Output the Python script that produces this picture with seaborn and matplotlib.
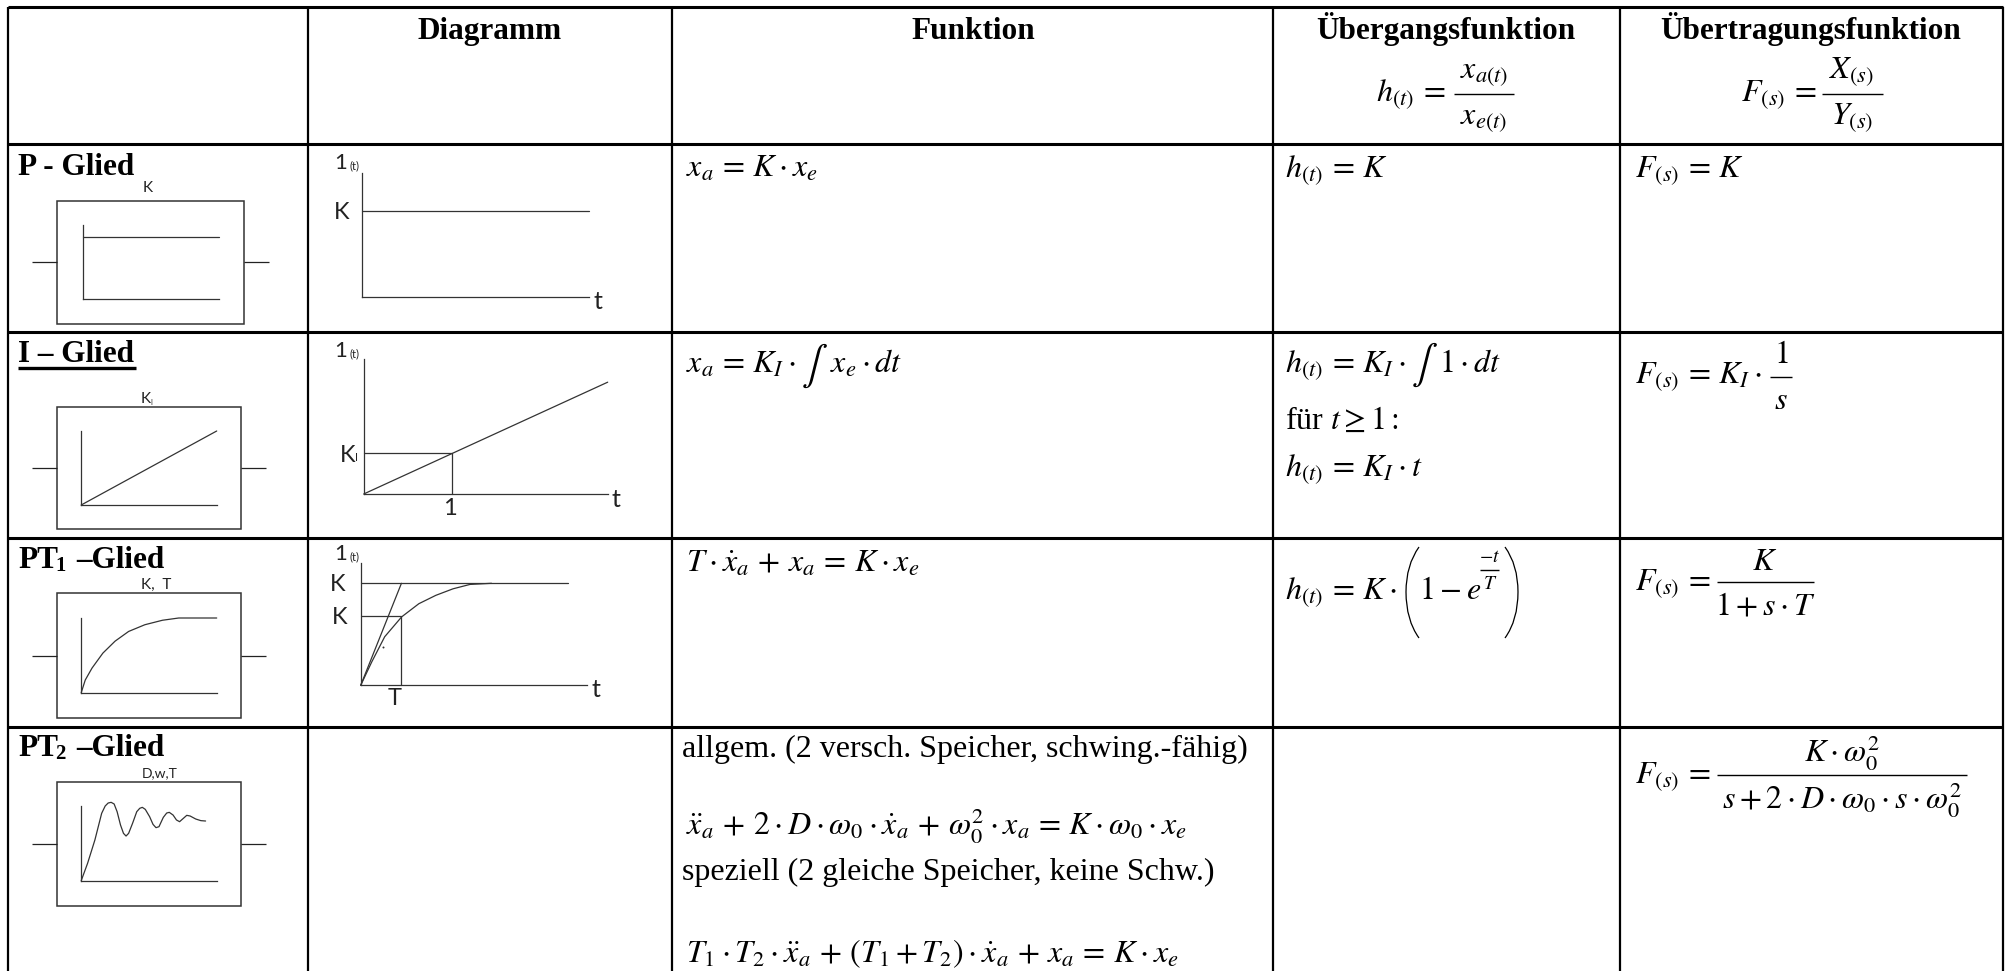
import matplotlib
matplotlib.use("Agg")
import matplotlib.pyplot as plt
from matplotlib.patches import PathPatch, Rectangle
from matplotlib.path import Path
import seaborn as sns

W, H = 2013, 971

# table grid
grid_x = [8, 307.5, 672, 1273, 1620, 2003]
grid_y = [7.5, 144.5, 332, 538.5, 727]

headers = ["Diagramm", "Funktion", "Übergangsfunktion", "Übertragungsfunktion"]

# curves (t, h in units of each sketch)
p_t = [0, 1]
p_h = [0.84, 0.84]
i_t = [0, 1]
i_h = [0, 1]
pt1_t = [0.0, 0.03, 0.08, 0.16, 0.25, 0.35, 0.47, 0.6, 0.72, 1.0]
pt1_h = [0.0, 0.17, 0.33, 0.53, 0.69, 0.82, 0.91, 0.97, 1.0, 1.0]
pt2_t = [0.0, 0.047, 0.101, 0.151, 0.177, 0.199, 0.221, 0.243, 0.265, 0.29, 0.312, 0.331,
         0.35, 0.379, 0.41, 0.432, 0.451, 0.473, 0.505, 0.53, 0.552, 0.574, 0.606, 0.631,
         0.65, 0.678, 0.703, 0.726, 0.751, 0.779, 0.804, 0.845, 0.883, 0.918]
pt2_h = [0.0, 0.232, 0.545, 0.902, 1.0, 1.04, 1.049, 1.027, 0.924, 0.746, 0.634, 0.598,
         0.634, 0.768, 0.924, 0.969, 0.982, 0.955, 0.857, 0.754, 0.71, 0.723, 0.848, 0.906,
         0.915, 0.879, 0.813, 0.79, 0.83, 0.875, 0.866, 0.826, 0.804, 0.799]

# step responses in the Diagramm column
dp_t = [0, 1]
dp_h = [1, 1]
di_t = [0, 2.76]
di_h = [0, 2.75]
di_box_t = [0, 1, 1]
di_box_h = [1, 1, 0]
dpt1_t = [0.0, 0.049, 0.106, 0.181, 0.257, 0.332, 0.408, 0.483, 0.578]
dpt1_h = [0.0, 0.23, 0.476, 0.671, 0.8, 0.882, 0.946, 0.989, 1.0]
dpt1_top_t = [0, 0.917]
dpt1_top_h = [1, 1]
dpt1_tan_t = [0, 0.18]
dpt1_tan_h = [0, 1]
dpt1_box_t = [0, 0.18, 0.18]
dpt1_box_h = [0.68, 0.68, 0]
dpt1_dot_t = [0.099]
dpt1_dot_h = [0.375]

sns.set_theme(style="white")
plt.rcParams["mathtext.fontset"] = "stix"
plt.rcParams["font.family"] = ["Liberation Serif", "DejaVu Sans"]

fig = plt.figure(figsize=(W / 100, H / 100), dpi=100, facecolor="white")
ax = fig.add_axes([0, 0, 1, 1], zorder=1)
ax.set_xlim(0, W)
ax.set_ylim(H, 0)
ax.axis("off")

ax.hlines(grid_y, grid_x[0], grid_x[-1], color="black", lw=2.2)
ax.vlines(grid_x, grid_y[0], H, color="black", lw=1.6)


def put(x, y, s, size=23, ha="left", **kw):
    ax.text(x, y, s, fontsize=size, ha=ha, va="baseline", color="black", **kw)


def bold(x, y, s, size=22.5, ha="left"):
    put(x, y, s, size=size, ha=ha, fontweight="bold")


def rule(x0, x1, y):
    ax.hlines(y, x0, x1, color="black", lw=1.0)


def frac(xc, x0, x1, yr, num, yn, den, yd, size=23):
    rule(x0, x1, yr)
    put(xc, yn, num, size=size, ha="center")
    put(xc, yd, den, size=size, ha="center")


def sketch(s, x, y, size=10):
    ax.text(x, y, s, fontsize=size, ha="left", va="baseline", color="#222222",
            family=["Lato", "DejaVu Sans"])


def mini(x0, y0, x1, y1, xlim, ylim):
    # axes whose left and bottom spines are the sketch's own axis lines
    a = fig.add_axes([x0 / W, 1 - y1 / H, (x1 - x0) / W, (y1 - y0) / H], zorder=2)
    a.patch.set_alpha(0)
    a.set_xlim(*xlim)
    a.set_ylim(*ylim)
    a.set_xticks([])
    a.set_yticks([])
    sns.despine(ax=a)
    for sp in ("left", "bottom"):
        a.spines[sp].set_color("#333333")
        a.spines[sp].set_linewidth(0.9)
    return a


def curve(a, t, h):
    sns.lineplot(x=t, y=h, ax=a, color="#333333", lw=0.9, sort=False, estimator=None,
                 errorbar=None, legend=False, clip_on=False)


def block(x0, y0, x1, y1, ystub, x_l, x_r):
    ax.add_patch(Rectangle((x0, y0), x1 - x0, y1 - y0, fill=False, ec="#333333", lw=1.1))
    ax.hlines(ystub, x_l, x0, color="#222222", lw=0.9)
    ax.hlines(ystub, x1, x_r, color="#222222", lw=0.9)


# header row
for s, xc in zip(headers, [490, 973, 1446, 1811]):
    bold(xc, 39, s, ha="center")

put(1376, 101, r"$h_{(t)}\,=$")
frac(1484, 1454, 1514, 93.6, r"$x_{a(t)}$", 78, r"$x_{e(t)}$", 124)
put(1741, 101, r"$F_{(s)}\,=$")
frac(1852, 1822, 1883, 93.6, r"$X_{(s)}$", 78, r"$Y_{(s)}$", 124)

# row labels
bold(18, 175, "P - Glied")
bold(18, 362, "I – Glied")
ax.hlines(368.5, 18, 136, color="black", lw=2.4)
bold(18, 568, "PT")
put(55, 571, "1", size=15, fontweight="bold")
bold(76, 568, "–Glied")
bold(18, 756, "PT")
put(55, 759, "2", size=15, fontweight="bold")
bold(76, 756, "–Glied")

# block symbols
block(57, 201, 243.5, 324, 262, 32, 269)
sketch("K", 143, 192, size=11)
a = mini(82.5, 225, 219, 299, (0, 1), (0, 1))
curve(a, p_t, p_h)

block(56.5, 407, 241, 529, 467.7, 32, 266)
sketch("K", 141, 403, size=11)
sketch("I", 150, 405, size=5)
a = mini(81.2, 431, 216.7, 505, (0, 1), (0, 1))
curve(a, i_t, i_h)

block(56.5, 593, 241, 717.7, 655.7, 32, 266)
sketch("K,  T", 141, 589, size=11)
a = mini(81.2, 618, 216.7, 692.7, (0, 1), (0, 1))
curve(a, pt1_t, pt1_h)

block(56.5, 781.7, 241, 906, 843.7, 32, 266)
sketch("D,w,T", 142, 777, size=10)
a = mini(81.2, 806, 216.7, 880.7, (0, 1), (0, 1))
curve(a, pt2_t, pt2_h)

# Diagramm column
a = mini(361.5, 172.7, 589, 296.7, (0, 1), (0, 124 / 85.7))
curve(a, dp_t, dp_h)
sketch("1", 334, 169, size=16)
sketch("(t)", 350, 169, size=8)
sketch("K", 334, 219, size=17)
sketch("t", 594, 309, size=18)

a = mini(363.7, 359, 607.7, 494, (0, 2.76), (0, 3.32))
curve(a, di_t, di_h)
curve(a, di_box_t, di_box_h)
sketch("1", 334, 357, size=16)
sketch("(t)", 350, 357, size=8)
sketch("K", 340, 462, size=17)
sketch("I", 355, 461, size=8)
sketch("1", 443, 515, size=17)
sketch("t", 612, 507, size=18)

a = mini(360.7, 562.7, 587, 685.3, (0, 1), (0, 122.6 / 102))
curve(a, dpt1_t, dpt1_h)
curve(a, dpt1_top_t, dpt1_top_h)
curve(a, dpt1_tan_t, dpt1_tan_h)
curve(a, dpt1_box_t, dpt1_box_h)
sns.scatterplot(x=dpt1_dot_t, y=dpt1_dot_h, ax=a, s=2, color="#333333", linewidth=0, legend=False)
sketch("1", 334, 560, size=16)
sketch("(t)", 349, 560, size=8)
sketch("K", 330, 591, size=17)
sketch("K", 332, 624, size=17)
sketch("T", 388, 705, size=17)
sketch("t", 592, 697, size=18)

# Funktion column
put(686, 177, r"$x_a\,=\,K\cdot x_e$")
put(686, 373, r"$x_a\,=\,K_I\cdot$")
put(814, 376, r"$\int$", size=28, ha="center")
put(830, 373, r"$x_e\cdot dt$")
put(686, 572, r"$T\cdot\dot{x}_a\,+\,x_a\,=\,K\cdot x_e$")
put(682, 757, "allgem. (2 versch. Speicher, schwing.-fähig)")
put(686, 835, r"$\ddot{x}_a\,+\,2\cdot D\cdot\omega_0\cdot\dot{x}_a\,+\,\omega_0^2\cdot x_a\,=\,K\cdot\omega_0\cdot x_e$")
put(682, 880, "speziell (2 gleiche Speicher, keine Schw.)")
put(686, 962, r"$T_1\cdot T_2\cdot\ddot{x}_a\,+\,(T_1+T_2)\cdot\dot{x}_a\,+\,x_a\,=\,K\cdot x_e$")

# Übergangsfunktion column
put(1285, 177, r"$h_{(t)}\,=\,K$")
put(1285, 372, r"$h_{(t)}\,=\,K_I\cdot$")
put(1424, 375, r"$\int$", size=28, ha="center")
put(1439, 372, r"$1\cdot dt$")
put(1285, 429, r"für $t\geq 1:$")
put(1285, 476, r"$h_{(t)}\,=\,K_I\cdot t$")
put(1285, 599, r"$h_{(t)}\,=\,K\cdot$")
put(1419, 599, r"$1-e$")
frac(1490, 1480, 1499, 570, r"$-t$", 562, r"$T$", 589, size=14)
for x_out, x_in in [(1419, 1406), (1505, 1518)]:
    verts = [(x_out, 547), (x_in, 565), (x_in, 592), (x_in, 620), (x_out, 638)]
    codes = [Path.MOVETO, Path.CURVE3, Path.CURVE3, Path.CURVE3, Path.CURVE3]
    ax.add_patch(PathPatch(Path(verts, codes), fill=False, ec="black", lw=0.9))

# Übertragungsfunktion column
put(1635, 177, r"$F_{(s)}\,=\,K$")
put(1635, 383, r"$F_{(s)}\,=\,K_I\cdot$")
frac(1781, 1770, 1792, 377, r"$1$", 363, r"$s$", 409)
put(1635, 590, r"$F_{(s)}\,=$")
frac(1765, 1717, 1814, 581.7, r"$K$", 570, r"$1+s\cdot T$", 615)
put(1635, 783, r"$F_{(s)}\,=$")
frac(1842, 1717, 1967, 775, r"$K\cdot\omega_0^2$", 762, r"$s+2\cdot D\cdot\omega_0\cdot s\cdot\omega_0^2$", 809)

fig.savefig("out.png", dpi=100, facecolor="white")
